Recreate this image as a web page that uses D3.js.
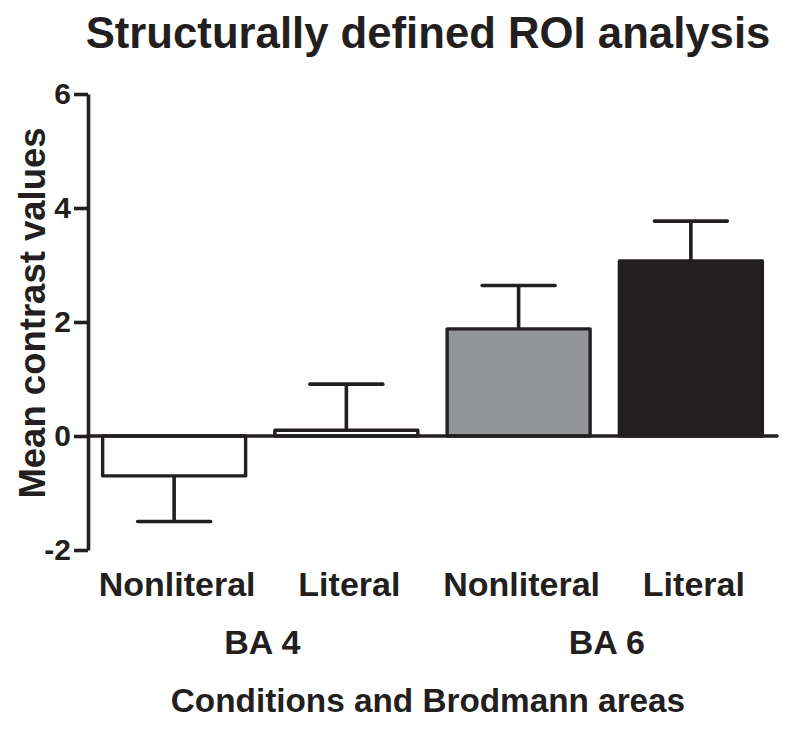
<!DOCTYPE html>
<html>
<head>
<meta charset="utf-8">
<script src="https://cdn.jsdelivr.net/npm/d3@7"></script>
<style>
  body { margin: 0; background: #fff; }
  text { font-family: "Liberation Sans", Arial, sans-serif; font-weight: bold; fill: #231f20; }
</style>
</head>
<body>
<div id="chart"></div>
<script>
// chart data
const conditions = ['Nonliteral', 'Literal', 'Nonliteral', 'Literal'];
const areas = ['BA 4', 'BA 4', 'BA 6', 'BA 6'];
const means = [-0.7, 0.1, 1.88, 3.07];
const errors = [0.8, 0.81, 0.76, 0.7];
const barFills = ['#ffffff', '#ffffff', '#939598', '#231f20'];
const yTicks = [-2, 0, 2, 4, 6];

const ink = '#231f20';
const width = 787, height = 731;
const margin = { top: 94, right: 10, bottom: 181, left: 88 };

const rows = means.map((m, i) => ({
  id: i, cond: conditions[i], area: areas[i], mean: m, err: errors[i], fill: barFills[i]
}));

const svg = d3.select('#chart').append('svg')
  .attr('width', width)
  .attr('height', height)
  .attr('viewBox', [0, 0, width, height]);

const x = d3.scaleBand()
  .domain(rows.map(d => d.id))
  .range([margin.left, width - margin.right])
  .paddingInner(0.17)
  .paddingOuter(0.085);

const y = d3.scaleLinear()
  .domain([-2, 6])
  .range([height - margin.bottom, margin.top]);

// title
svg.append('text')
  .attr('x', 428)
  .attr('y', 48)
  .attr('text-anchor', 'middle')
  .attr('font-size', '43.7px')
  .text('Structurally defined ROI analysis');

// error bars (one-sided, away from zero)
const capW = x.bandwidth() * 0.51;
const errG = svg.append('g')
  .attr('stroke', ink)
  .attr('stroke-width', 3.6)
  .attr('fill', 'none');

rows.forEach(d => {
  const cx = x(d.id) + x.bandwidth() / 2;
  const tip = d.mean >= 0 ? d.mean + d.err : d.mean - d.err;
  errG.append('line')
    .attr('x1', cx).attr('x2', cx)
    .attr('y1', y(d.mean)).attr('y2', y(tip));
  errG.append('line')
    .attr('x1', cx - capW / 2).attr('x2', cx + capW / 2)
    .attr('y1', y(tip)).attr('y2', y(tip))
    .attr('stroke-linecap', 'round');
});

// bars
svg.append('g')
  .selectAll('rect')
  .data(rows)
  .join('rect')
    .attr('x', d => x(d.id))
    .attr('y', d => y(Math.max(0, d.mean)))
    .attr('width', x.bandwidth())
    .attr('height', d => Math.abs(y(d.mean) - y(0)))
    .attr('fill', d => d.fill)
    .attr('stroke', ink)
    .attr('stroke-width', 3.4)
    .attr('stroke-linejoin', 'round');

// zero line
svg.append('line')
  .attr('x1', margin.left)
  .attr('x2', width - margin.right)
  .attr('y1', y(0))
  .attr('y2', y(0))
  .attr('stroke', ink)
  .attr('stroke-width', 3.6)
  .attr('stroke-linecap', 'round');

// y axis
svg.append('g')
  .attr('transform', `translate(${margin.left},0)`)
  .call(d3.axisLeft(y).tickValues(yTicks).tickFormat(d => String(d))
    .tickSize(14).tickSizeOuter(0).tickPadding(3))
  .call(g => g.selectAll('path, line').attr('stroke', ink).attr('stroke-width', 3.6))
  .call(g => g.selectAll('text')
    .attr('font-size', '30px')
    .attr('font-family', '"Liberation Sans", Arial, sans-serif')
    .attr('font-weight', 'bold')
    .attr('fill', ink));

// y axis title
svg.append('text')
  .attr('transform', `translate(45,${313}) rotate(-90)`)
  .attr('text-anchor', 'middle')
  .attr('font-size', '36.5px')
  .text('Mean contrast values');

// category labels
svg.append('g')
  .selectAll('text')
  .data(rows)
  .join('text')
    .attr('x', d => x(d.id) + x.bandwidth() / 2 + 3)
    .attr('y', 596)
    .attr('text-anchor', 'middle')
    .attr('font-size', '34px')
    .text(d => d.cond);

// area labels
const areaNames = Array.from(new Set(areas));
svg.append('g')
  .selectAll('text')
  .data(areaNames)
  .join('text')
    .attr('x', a => {
      const ids = rows.filter(d => d.area === a).map(d => x(d.id) + x.bandwidth() / 2);
      return d3.mean(ids) + 2;
    })
    .attr('y', 654)
    .attr('text-anchor', 'middle')
    .attr('font-size', '34px')
    .text(a => a);

// x axis title
svg.append('text')
  .attr('x', 428)
  .attr('y', 712)
  .attr('text-anchor', 'middle')
  .attr('font-size', '33.3px')
  .text('Conditions and Brodmann areas');
</script>
</body>
</html>
